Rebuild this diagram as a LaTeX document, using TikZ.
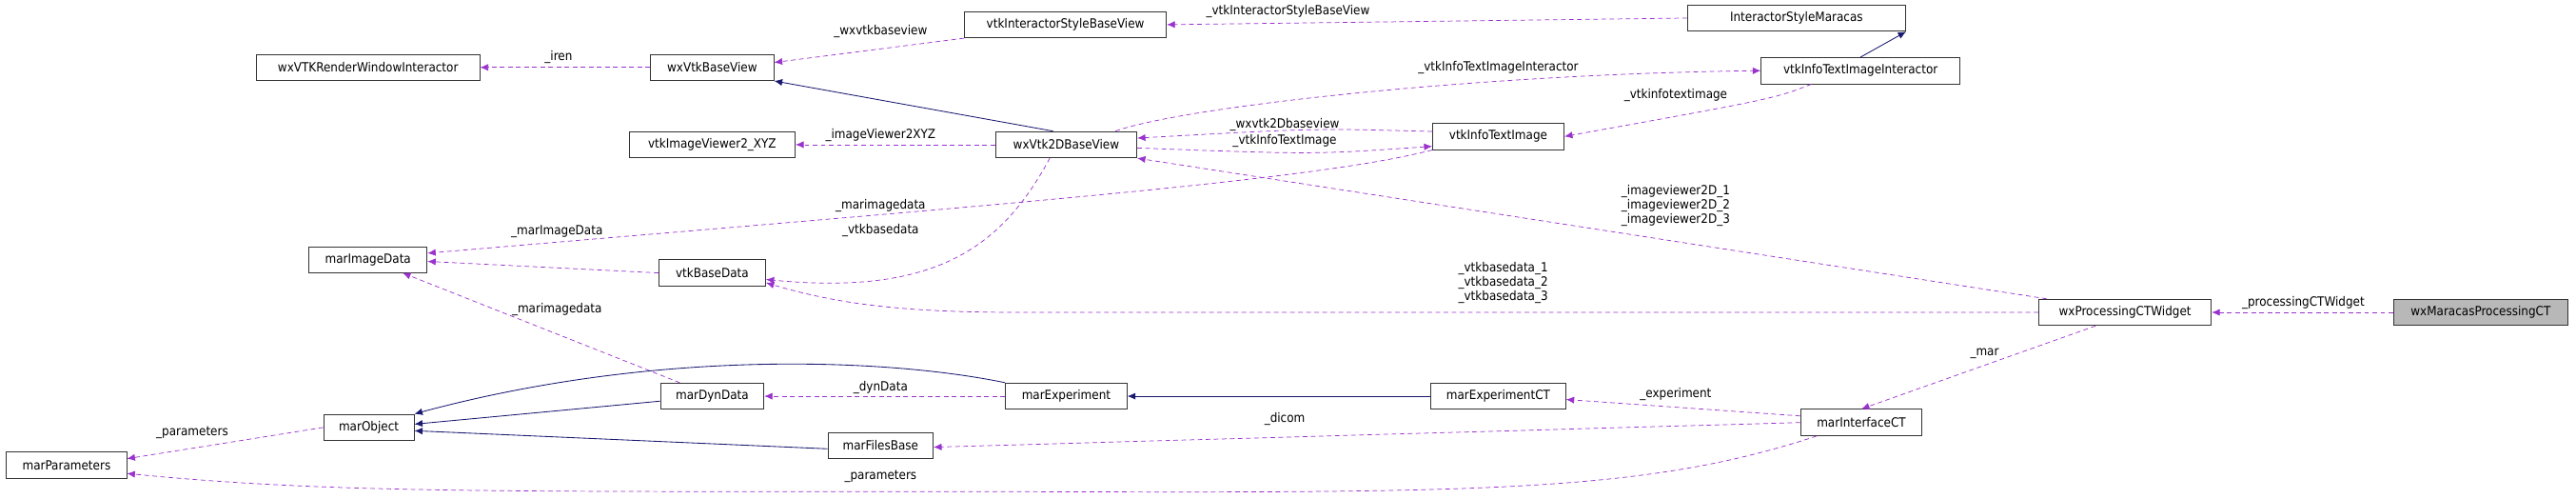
\documentclass[tikz,border=0pt]{standalone}
\usepackage{fontspec}
\setmainfont{DejaVu Sans Condensed}
\usetikzlibrary{arrows.meta}
\definecolor{pur}{HTML}{9A32CD}
\definecolor{nav}{HTML}{191970}
\begin{document}
\begin{tikzpicture}[x=0.5mm,y=-0.5mm,
  font=\fontsize{11}{12}\selectfont,
  box/.style={draw=black!80,line width=0.7pt,fill=white,minimum height=8mm,inner sep=0pt},
  dep/.style={draw=pur,dashed,line width=0.6pt,dash pattern=on 4pt off 3pt,-{Latex[length=7pt,width=6pt]}},
  inh/.style={draw=nav,line width=0.7pt,-{Latex[length=7pt,width=6pt]}},
  lab/.style={inner sep=1pt,align=left,font=\fontsize{11}{12.5}\selectfont}]
\useasboundingbox (0,0) rectangle (1568,303);
\node[box,minimum width=68mm] (rwi) at (224,41) {wxVTKRenderWindowInteractor};
\node[box,minimum width=37.5mm] (bv) at (433.5,41) {wxVtkBaseView};
\node[box,minimum width=61.5mm] (isbv) at (648.5,15) {vtkInteractorStyleBaseView};
\node[box,minimum width=66.5mm] (ism) at (1093.5,11) {InteractorStyleMaracas};
\node[box,minimum width=60.5mm] (itii) at (1132.5,43) {vtkInfoTextImageInteractor};
\node[box,minimum width=50.5mm] (iv) at (433.5,88) {vtkImageViewer2\_XYZ};
\node[box,minimum width=43mm] (v2d) at (649,88) {wxVtk2DBaseView};
\node[box,minimum width=40mm] (iti) at (912,83) {vtkInfoTextImage};
\node[box,minimum width=36mm] (mid) at (224,158) {marImageData};
\node[box,minimum width=32.5mm] (vbd) at (433.5,166) {vtkBaseData};
\node[box,minimum width=52.5mm] (pw) at (1293.5,190) {wxProcessingCTWidget};
\node[box,minimum width=53mm,fill=black!28] (mpc) at (1510,190) {wxMaracasProcessingCT};
\node[box,minimum width=31.5mm] (dd) at (433.5,241) {marDynData};
\node[box,minimum width=37mm] (me) at (649,241) {marExperiment};
\node[box,minimum width=41mm] (mect) at (912,241) {marExperimentCT};
\node[box,minimum width=27.5mm] (mo) at (224.5,260) {marObject};
\node[box,minimum width=32mm] (fb) at (536,271) {marFilesBase};
\node[box,minimum width=37mm] (ict) at (1133,257) {marInterfaceCT};
\node[box,minimum width=36.5mm] (mp) at (40.5,283) {marParameters};

\draw[dep] (bv) -- (rwi);
\node[lab] at (340,35) {\_iren};
\draw[dep] (isbv.south west) -- (bv.east |- 0,38);
\node[lab] at (536,19) {\_wxvtkbaseview};
\draw[dep] (ism.west) -- (isbv.east);
\node[lab] at (784,7) {\_vtkInteractorStyleBaseView};
\draw[inh] (itii.north) -- (ism.south east);
\draw[inh] (v2d.north) ++(-8,0) -- (bv.south east);
\draw[dep] (v2d.north) ++(30,0) .. controls (720,65) and (900,45) .. (itii.west);
\node[lab] at (912,41) {\_vtkInfoTextImageInteractor};
\draw[dep] (itii.south) ++(-30,0) .. controls (1080,60) .. (iti.east);
\node[lab] at (1020,58) {\_vtkinfotextimage};
\draw[dep] (iti.west) ++(0,-3) .. controls (800,78) .. (v2d.east |- 0,84);
\node[lab] at (782,76) {\_wxvtk2Dbaseview};
\draw[dep] (v2d.east |- 0,90) .. controls (800,94) .. (iti.west |- 0,89);
\node[lab] at (782,86) {\_vtkInfoTextImage};
\draw[dep] (v2d.west) -- (iv.east);
\node[lab] at (536,82) {\_imageViewer2XYZ};
\draw[dep] (pw.north west) ++(5,0) -- (v2d.south east);
\node[lab] at (1020,125) {\_imageviewer2D\_1\\\_imageviewer2D\_2\\\_imageviewer2D\_3};
\draw[dep] (iti.south west) .. controls (800,110) and (600,125) .. (mid.east |- 0,154);
\node[lab] at (536,125) {\_marimagedata};
\draw[dep] (vbd.west) -- (mid.east |- 0,159);
\node[lab] at (339,141) {\_marImageData};
\draw[dep] (v2d.south) ++(-10,0) .. controls (610,150) and (570,180) .. (vbd.east |- 0,170);
\node[lab] at (536,140) {\_vtkbasedata};
\draw[dep] (pw.west) -- (620,190) .. controls (550,190) and (510,185) .. (vbd.east |- 0,172);
\node[lab] at (915,172) {\_vtkbasedata\_1\\\_vtkbasedata\_2\\\_vtkbasedata\_3};
\draw[dep] (dd.north west) ++(12,0) -- (245,166);
\node[lab] at (339,188) {\_marimagedata};
\draw[dep] (me.west) -- (dd.east);
\node[lab] at (536,236) {\_dynData};
\draw[inh] (mect.west) -- (me.east);
\draw[inh] (dd.west |- 0,244) -- (mo.east |- 0,258);
\draw[inh] (me.north west) .. controls (540,218) and (400,212) .. (mo.north east);
\draw[inh] (fb.west |- 0,273) -- (mo.east |- 0,262);
\draw[dep] (mo.west) -- (mp.east |- 0,279);
\node[lab] at (117,263) {\_parameters};
\draw[dep] (ict.south west) ++(10,0) .. controls (1000,300) and (900,300) .. (600,299) .. controls (300,299) and (200,300) .. (mp.east |- 0,288);
\node[lab] at (536,290) {\_parameters};
\draw[dep] (ict.west |- 0,253) -- (mect.east |- 0,243);
\node[lab] at (1020,240) {\_experiment};
\draw[dep] (ict.west |- 0,257) -- (fb.east |- 0,272);
\node[lab] at (782,255) {\_dicom};
\draw[dep] (pw.south) ++(-18,0) -- (ict.north);
\node[lab] at (1208,215) {\_mar};
\draw[dep] (mpc.west) -- (pw.east);
\node[lab] at (1402,184) {\_processingCTWidget};
\end{tikzpicture}
\end{document}
